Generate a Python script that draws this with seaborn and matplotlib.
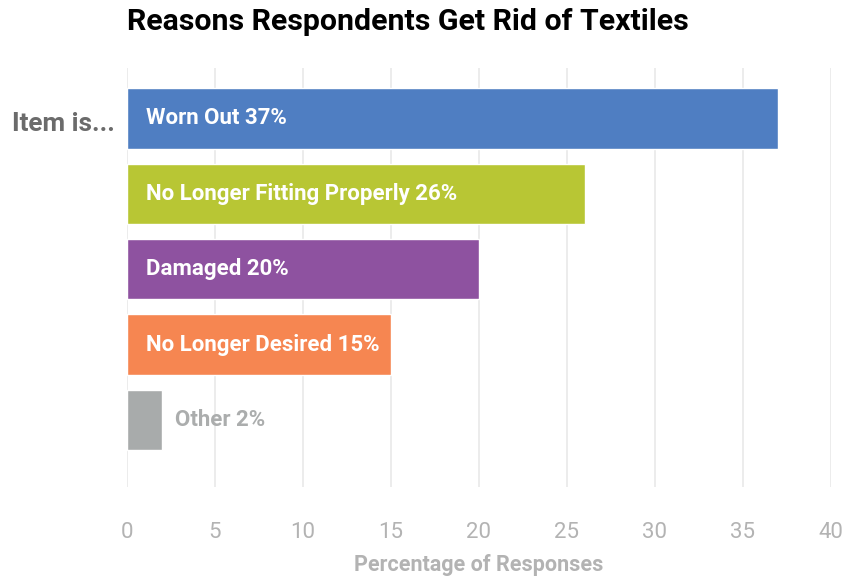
import matplotlib
matplotlib.use("Agg")
import matplotlib.pyplot as plt
import seaborn as sns
import pandas as pd

# Survey results: why respondents get rid of textiles
reasons = ["Worn Out", "No Longer Fitting Properly", "Damaged", "No Longer Desired", "Other"]
percent = [37, 26, 20, 15, 2]
colors = ["#4F7EC2", "#B8C634", "#8E52A0", "#F68651", "#A8ABAB"]
x_ticks = [0, 5, 10, 15, 20, 25, 30, 35, 40]

df = pd.DataFrame({"reason": reasons, "percent": percent})

sns.set_theme(style="white")
plt.rcParams["font.family"] = ["Roboto", "DejaVu Sans"]

fig = plt.figure(figsize=(8.45, 5.8), dpi=100)
ax = fig.add_axes([0.1503, 0.1603, 0.8331, 0.7225])

sns.barplot(data=df, y="reason", x="percent", hue="reason", palette=colors,
            order=reasons, hue_order=reasons, orient="h", width=0.8,
            legend=False, saturation=1, ax=ax)

ax.set_xlim(0, 40)
ax.set_ylim(4.89, -0.67)
ax.set_xticks(x_ticks)
ax.set_xticklabels([str(t) for t in x_ticks], color="#B3B3B3", fontsize=16,
                   fontweight="normal")
ax.tick_params(axis="x", length=0, pad=25)
ax.set_yticks([])
ax.set_ylabel("")
ax.set_xlabel("Percentage of Responses", color="#B3B3B3", fontsize=15.5,
              fontweight="bold", labelpad=8)
ax.grid(axis="x", color="#EAEAEA", linewidth=1.3)
ax.set_axisbelow(True)
for s in ax.spines.values():
    s.set_visible(False)

# Category + value labels: inside the bar, or just past it for short bars
for i, (r, v) in enumerate(zip(reasons, percent)):
    text = f"{r} {v}%"
    if v >= 10:
        ax.text(1.08, i, text, color="white", fontsize=16, fontweight="bold",
                va="center", ha="left")
    else:
        ax.text(v + 0.7, i, text, color="#ABADAD", fontsize=16,
                fontweight="bold", va="center", ha="left")

fig.text(0.1503, 0.962, "Reasons Respondents Get Rid of Textiles",
         fontsize=21.8, fontweight="bold", color="black", va="center", ha="left")
fig.text(0.136, 1 - 124 / 580, "Item is...", fontsize=18.8, fontweight="bold",
         color="#6B6B6B", va="center", ha="right")

fig.savefig("out.png", dpi=100)
